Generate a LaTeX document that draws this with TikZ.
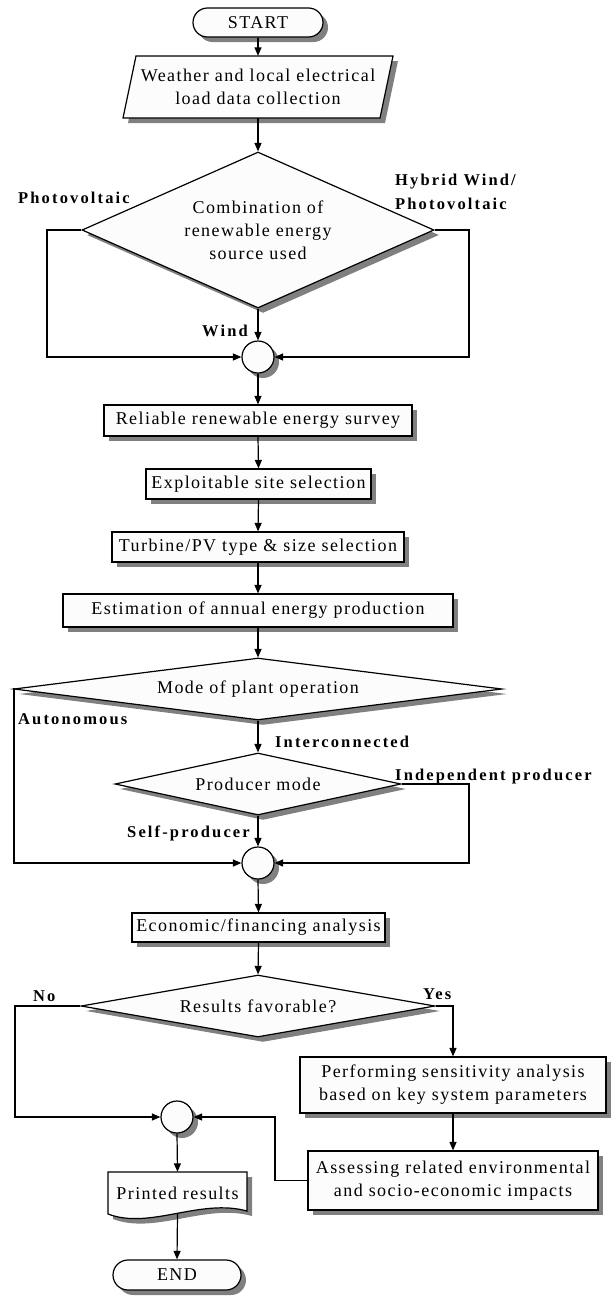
\documentclass[tikz,border=0pt]{standalone}
\usepackage{fontspec}
\setmainfont{Liberation Serif}[LetterSpace=8]
\newfontfamily\lblfont{Liberation Serif}[LetterSpace=13]
\usetikzlibrary{shapes.geometric,shapes.misc,shadows,arrows.meta}
\definecolor{shadowgray}{RGB}{128,128,128}
\definecolor{boxfill}{RGB}{252,252,252}
\begin{document}
\begin{tikzpicture}[x=1pt,y=-1pt,
  every node/.style={font=\fontsize{18}{23}\selectfont},
  shd/.style={drop shadow={shadow xshift=5pt,shadow yshift=-5pt,fill=shadowgray,opacity=1}},
  procbox/.style={draw,line width=1.2pt,fill=boxfill,shd,inner sep=0pt,align=center},
  term/.style={procbox,rounded rectangle},
  dec/.style={procbox,diamond},
  conn/.style={draw,line width=1.2pt,fill=boxfill,shd,circle,minimum size=32pt,inner sep=0pt},
  arr/.style={-{Triangle[length=8.5pt,width=7pt]},line width=1.2pt},
  lbl/.style={font=\lblfont\bfseries\fontsize{16.5}{24}\selectfont,inner sep=0pt,align=left}
]
\useasboundingbox (0,0) rectangle (612,1296);

% START
\node[term,minimum width=130pt,minimum height=29pt] (start) at (258,22.5) {START};

% data (parallelogram)
\path[draw,line width=1.2pt,fill=boxfill,shd] (136,56) -- (393,56) -- (380,118) -- (123,118) -- cycle;
\node[inner sep=0pt,minimum width=257pt,minimum height=62pt,align=center] (data) at (258,87) {Weather and local electrical\\load data collection};

% decision 1
\node[dec,aspect=2.26,minimum width=352pt,minimum height=156pt] (d1) at (258,230) {Combination of\\renewable energy\\source used};
\node[conn] (c1) at (258,357) {};

% process boxes
\node[procbox,minimum width=308pt,minimum height=31pt] (b1) at (258,420.5) {Reliable renewable energy survey};
\node[procbox,minimum width=225pt,minimum height=30pt] (b2) at (258.5,484) {Exploitable site selection};
\node[procbox,minimum width=292pt,minimum height=30pt] (b3) at (258,547) {Turbine/PV type \& size selection};
\node[procbox,minimum width=390pt,minimum height=33pt] (b4) at (258,610.5) {Estimation of annual energy production};

% decision 2 and 3
\node[dec,aspect=7.87,minimum width=488pt,minimum height=62pt] (d2) at (258,689) {Mode of plant operation};
\node[dec,aspect=4.6,minimum width=286pt,minimum height=62pt] (d3) at (258,784) {Producer mode};
\node[conn] (c2) at (258,863) {};

\node[procbox,minimum width=253pt,minimum height=29pt] (b5) at (258.5,927.5) {Economic/financing analysis};
\node[dec,aspect=5.7,minimum width=354pt,minimum height=62pt] (d4) at (258,1006) {Results favorable?};

\node[procbox,minimum width=306pt,minimum height=56pt] (b6) at (453,1085) {Performing sensitivity analysis\\based on key system parameters};
\node[procbox,minimum width=290pt,minimum height=59pt] (b7) at (453,1180.5) {Assessing related environmental\\and socio-economic impacts};

\node[conn] (c3) at (177,1117) {};

% document shape
\path[draw,line width=1.2pt,fill=boxfill,shd] (108,1172) -- (247,1172) -- (247,1211) .. controls (200,1198) and (150,1230) .. (108,1214) -- cycle;
\node[inner sep=0pt,minimum width=139pt,minimum height=42pt] (doc) at (177.5,1193) {Printed results};

\node[term,minimum width=128pt,minimum height=30pt] (endnode) at (177,1275) {END};

% connectors
\draw[arr] (start.south) -- (data.north);
\draw[arr] (data.south) -- (d1.north);
\draw[arr] (d1.west) -- (47,230) |- (c1.west);
\draw[arr] (d1.east) -- (469,230) |- (c1.east);
\draw[arr] (d1.south) -- (c1.north);
\draw[arr] (c1.south) -- (b1.north);
\draw[arr] (b1.south) -- (b2.north);
\draw[arr] (b2.south) -- (b3.north);
\draw[arr] (b3.south) -- (b4.north);
\draw[arr] (b4.south) -- (d2.north);
\draw[arr] (d2.west) -- (14,689) |- (c2.west);
\draw[arr] (d2.south) -- (d3.north);
\draw[arr] (d3.east) -- (469,784) |- (c2.east);
\draw[arr] (d3.south) -- (c2.north);
\draw[arr] (c2.south) -- (b5.north);
\draw[arr] (b5.south) -- (d4.north);
\draw[arr] (d4.west) -- (15,1006) |- (c3.west);
\draw[arr] (d4.east) -| (b6.north);
\draw[arr] (b6.south) -- (b7.north);
\draw[arr] (b7.west) -- (275,1180.5) |- (c3.east);
\draw[arr] (c3.south) -- (doc.north);
\draw[arr] (doc.south) -- (endnode.north);

% labels
\node[lbl,anchor=base west] (lpv) at (18,203) {Photovoltaic};
\node[lbl,anchor=west] (lhy) at (395,192) {Hybrid Wind/\\Photovoltaic};
\node[lbl,anchor=base east] (lwind) at (248,336.5) {Wind};
\node[lbl,anchor=base west] (laut) at (18,724) {Autonomous};
\node[lbl,anchor=base west] (lint) at (275,747) {Interconnected};
\node[lbl,anchor=base west] (lind) at (395,780) {Independent producer};
\node[lbl,anchor=base east] (lself) at (250,837) {Self-producer};
\node[lbl,anchor=base west] (lno) at (33,1001) {No};
\node[lbl,anchor=base west] (lyes) at (423,999) {Yes};
\end{tikzpicture}
\end{document}
